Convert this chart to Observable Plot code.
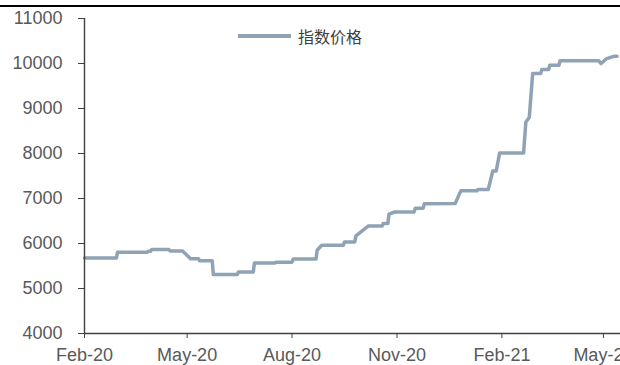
<!DOCTYPE html>
<html>
<head>
<meta charset="utf-8">
<script src="https://cdn.jsdelivr.net/npm/d3@7"></script>
<script src="https://cdn.jsdelivr.net/npm/@observablehq/plot@0.6"></script>
<style>
  html, body { margin: 0; padding: 0; background: #fff; overflow: hidden; }
  #wrap { position: relative; width: 620px; height: 365px; }
  #topline { position: absolute; left: 0; top: 5px; width: 620px; height: 2px; background: #000; }
  #legend { position: absolute; left: 238px; top: 26px; height: 20px; display: flex; align-items: center;
            font-family: "Noto Sans CJK SC", sans-serif; font-size: 16px; color: #404040; }
  #legend .sw { width: 53px; height: 3.5px; background: #8fa3b5; margin-right: 7px; }
</style>
</head>
<body>
<div id="wrap">
  <div id="chart"></div>
  <div id="topline"></div>
  <div id="legend"><span class="sw"></span><span>指数价格</span></div>
</div>
<script>
const seriesName = "指数价格";
const dates = [
  "2020-02-01","2020-02-29","2020-03-01","2020-03-27","2020-03-28","2020-03-30","2020-03-31",
  "2020-04-15","2020-04-16","2020-04-27","2020-05-04","2020-05-11","2020-05-12","2020-05-23",
  "2020-05-24","2020-06-14","2020-06-15","2020-06-28","2020-06-29","2020-07-17","2020-07-18",
  "2020-08-01","2020-08-02","2020-08-22","2020-08-23","2020-08-27","2020-09-15","2020-09-16",
  "2020-09-25","2020-09-26","2020-10-07","2020-10-19","2020-10-20","2020-10-24","2020-10-25",
  "2020-10-30","2020-11-16","2020-11-17","2020-11-24","2020-11-25","2020-12-22","2020-12-27",
  "2021-01-10","2021-01-11","2021-01-20","2021-01-24","2021-01-27","2021-01-30","2021-02-20",
  "2021-02-22","2021-02-25","2021-02-28","2021-03-07","2021-03-08","2021-03-14","2021-03-15",
  "2021-03-23","2021-03-24","2021-04-27","2021-04-29","2021-05-04","2021-05-10","2021-05-13"
];
const prices = [
  5680,5680,5805,5805,5830,5830,5865,
  5865,5835,5835,5660,5660,5615,5615,
  5310,5310,5365,5365,5565,5565,5585,
  5585,5655,5655,5850,5960,5960,6035,
  6035,6170,6390,6390,6445,6445,6655,
  6700,6700,6785,6785,6885,6890,7170,
  7170,7200,7200,7610,7610,8010,8010,
  8700,8800,9780,9780,9865,9865,9960,
  9960,10060,10060,10000,10110,10160,10160
];
const xTicks = ["2020-02-01","2020-05-01","2020-08-01","2020-11-01","2021-02-01","2021-05-01"];
const yTicks = [4000,5000,6000,7000,8000,9000,10000,11000];
const xDomain = ["2020-02-01","2021-05-16"];

const data = dates.map((d, i) => ({date: new Date(d), value: prices[i]}));
const axisColor = "#3f3f3f";

const chart = Plot.plot({
  width: 620,
  height: 365,
  marginLeft: 84,
  marginRight: 0,
  marginTop: 18,
  marginBottom: 32,
  style: {fontFamily: "'Liberation Sans', Arial, sans-serif", fontSize: "18px", color: "#595959", background: "#fff"},
  x: {type: "utc", domain: xDomain.map(d => new Date(d))},
  y: {domain: [4000, 11000]},
  marks: [
    Plot.line(data, {x: "date", y: "value", stroke: "#8fa3b5", strokeWidth: 3.5}),
    Plot.ruleY([4000], {stroke: axisColor, strokeWidth: 1.4}),
    Plot.ruleX([new Date(xDomain[0])], {y1: 4000, y2: 11000, stroke: axisColor, strokeWidth: 1.4}),
    Plot.axisX({ticks: xTicks.map(d => new Date(d)), tickFormat: d3.utcFormat("%b-%y"),
                tickSize: 5, tickPadding: 10, stroke: axisColor, fill: "#595959", label: null}),
    Plot.axisY({ticks: yTicks, tickFormat: d => String(d), tickSize: 6, tickPadding: 16,
                stroke: axisColor, fill: "#595959", label: null})
  ]
});
document.getElementById("chart").appendChild(chart);
</script>
</body>
</html>
